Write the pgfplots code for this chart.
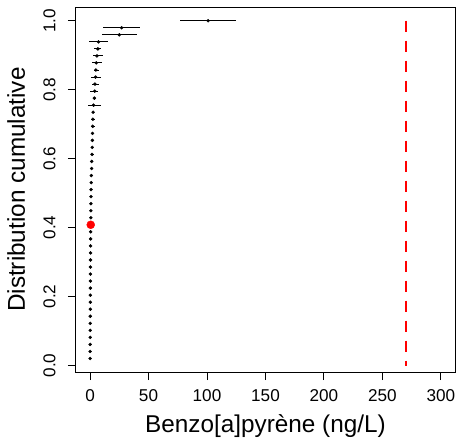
\documentclass[border=0pt]{standalone}
\usepackage{fontspec}
\setmainfont{Liberation Sans}
\usepackage{pgfplots}
\pgfplotsset{compat=1.18}
\begin{document}
\begin{tikzpicture}
\useasboundingbox (-76bp,-67bp) rectangle (386bp,372bp);
\begin{axis}[
  scale only axis, width=379bp, height=364.7bp,
  xmin=-12, xmax=312, ymin=-0.0188, ymax=1.039,
  axis line style={black, line width=1bp},
  tick style={black, line width=1bp},
  tick align=outside, major tick length=8bp,
  xtick={0,50,100,150,200,250,300},
  xticklabels={0,50,100,150,200,250,300},
  ytick={0,0.2,0.4,0.6,0.8,1.0},
  yticklabels={0.0,0.2,0.4,0.6,0.8,1.0},
  xtick pos=bottom, ytick pos=left,
  ticklabel style={font=\fontsize{17.2}{20}\selectfont},
  yticklabel style={rotate=90, anchor=south},
  xticklabel shift=6bp, yticklabel shift=9bp,
  label style={font=\fontsize{24.4}{28}\selectfont},
  xlabel={Benzo[a]pyrène (ng/L)},
  ylabel={Distribution cumulative},
  xlabel style={at={(axis description cs:0.5,0)}, anchor=base, yshift=-60bp},
  ylabel style={at={([xshift=-51bp]axis description cs:0,0.5)}, anchor=base},
  clip=false,
]
\addplot[black, only marks, mark=*, mark size=1.5bp,
  error bars/.cd, x dir=both, x explicit, error mark=none,
  error bar style={black, line width=1bp}]
  table[x=x, y=y, x error plus=ep, x error minus=em] {
x y ep em
0.05 0.0204 0 0
0.08 0.0408 0 0
0.10 0.0612 0 0
0.12 0.0816 0 0
0.15 0.1020 0 0
0.17 0.1224 0 0
0.20 0.1429 0 0
0.22 0.1633 0 0
0.25 0.1837 0 0
0.27 0.2041 0 0
0.30 0.2245 0 0
0.32 0.2449 0 0
0.35 0.2653 0 0
0.38 0.2857 0 0
0.40 0.3061 0 0
0.43 0.3265 0 0
0.46 0.3469 0 0
0.50 0.3673 0 0
0.53 0.3878 0 0
0.65 0.4286 0 0
0.70 0.4490 0 0
0.75 0.4694 0 0
0.80 0.4898 0 0
0.90 0.5102 0 0
1.00 0.5306 0 0
1.10 0.5510 0 0
1.30 0.5714 1.0 0.9
1.45 0.5918 0 0
1.70 0.6122 1.5 1.3
1.85 0.6327 0 0
2.00 0.6531 0 0
2.10 0.6735 0 0
2.30 0.6939 1.7 1.6
2.40 0.7143 1.8 1.6
2.60 0.7347 0 0
3.00 0.7551 6.5 4.8
3.70 0.7755 0 0
4.00 0.7959 2.8 3.7
4.20 0.8163 3.3 2.7
4.70 0.8367 4.5 3.7
5.00 0.8571 2.6 1.8
5.30 0.8776 5.0 3.5
5.90 0.8980 5.6 3.7
6.70 0.9184 3.1 3.2
7.20 0.9388 7.8 7.7
25.0 0.9592 15.5 15.0
27.0 0.9796 15.5 15.5
101.0 1.0000 24.0 24.0
};
\addplot[red, only marks, mark=*, mark size=4bp] coordinates {(0.6,0.4082)};
\addplot[red, line width=2.6bp, dash pattern=on 11.5bp off 8.5bp] coordinates {(270,1) (270,0)};
\end{axis}
\end{tikzpicture}
\end{document}
